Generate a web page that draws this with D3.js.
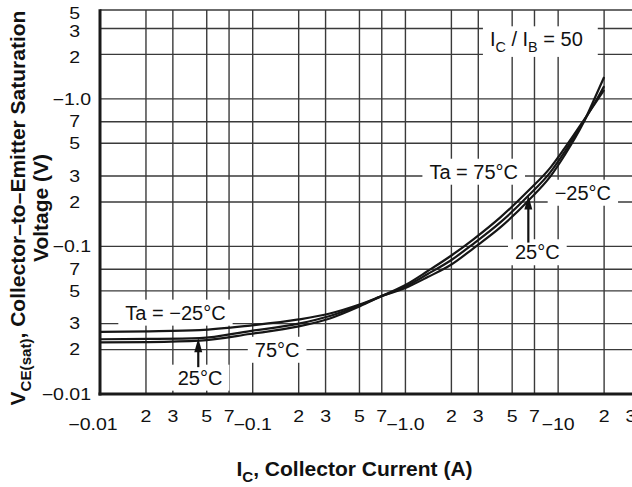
<!DOCTYPE html>
<html>
<head>
<meta charset="utf-8">
<script src="https://cdn.jsdelivr.net/npm/d3@7"></script>
<style>
  body { margin: 0; background: #fff; }
  svg { display: block; }
  text { font-family: "Liberation Sans", Arial, Helvetica, sans-serif; fill: #111; }
</style>
</head>
<body>
<svg id="chart" width="632" height="487"></svg>
<script>
// Collector current (A) sample points along the curves
const currents = [0.01, 0.021, 0.045, 0.096, 0.2, 0.32, 0.5, 0.7, 1.0, 1.4, 2.0, 2.8, 4.2, 6.4, 8.9, 11, 14.6, 17.5, 20];
// VCE(sat) magnitude (V) at each current, IC/IB = 50
const vceMinus25 = [0.0264, 0.0266, 0.0271, 0.0291, 0.0320, 0.0351, 0.0404, 0.0461, 0.0523, 0.062, 0.0754, 0.0975, 0.135, 0.205, 0.298, 0.413, 0.685, 1.03, 1.405];
const vce25      = [0.0235, 0.0236, 0.0239, 0.0267, 0.0300, 0.0338, 0.0398, 0.0461, 0.0535, 0.065, 0.0809, 0.1046, 0.146, 0.221, 0.319, 0.436, 0.696, 0.951, 1.22];
const vce75      = [0.0224, 0.0225, 0.0230, 0.0255, 0.0287, 0.0325, 0.0392, 0.0461, 0.0548, 0.0681, 0.0868, 0.1122, 0.158, 0.239, 0.342, 0.461, 0.707, 0.937, 1.15];

// Axis ticks and their printed labels
const xTicks = [0.01, 0.02, 0.03, 0.05, 0.07, 0.1, 0.2, 0.3, 0.5, 0.7, 1, 2, 3, 5, 7, 10, 20, 30];
const xTickLabels = ["−0.01", "2", "3", "5", "7", "−0.1", "2", "3", "5", "7", "−1.0", "2", "3", "5", "7", "−10", "2", "3"];
const yTicks = [0.01, 0.02, 0.03, 0.05, 0.07, 0.1, 0.2, 0.3, 0.5, 0.7, 1, 2, 3, 4];
const yTickLabels = ["−0.01", "2", "3", "5", "7", "−0.1", "2", "3", "5", "7", "−1.0", "2", "3", "5"];

const series = [
  { name: "-25", values: vceMinus25 },
  { name: "25", values: vce25 },
  { name: "75", values: vce75 }
];

// In-plot annotations: text parts ([text, isSubscript]) anchored at (current, voltage)
const annotations = [
  { parts: [["Ta = −25°C"]], i: 0.0312, v: 0.0357 },
  { parts: [["75°C"]], i: 0.1445, v: 0.0200 },
  { parts: [["25°C"]], i: 0.0452, v: 0.01294 },
  { parts: [["Ta = 75°C"]], i: 2.80, v: 0.3218 },
  { parts: [["−25°C"]], i: 14.52, v: 0.2318 },
  { parts: [["25°C"]], i: 7.31, v: 0.0916 },
  { parts: [["I"], ["C", 1], [" / I"], ["B", 1], [" = 50"]], i: 7.2, v: 2.54, padR: 15 }
];
// Arrows pointing at the 25°C curve
const arrows = [
  { i: 0.044, v: 0.0239, len: 29 },
  { i: 6.38, v: 0.221, len: 47 }
];

const svg = d3.select("#chart");
const x = d3.scaleLog().domain([0.01, 30]).range([100, 631]);
const y = d3.scaleLog().domain([0.01, 4]).range([394, 10]);

// Grid
const grid = svg.append("g").attr("stroke", "#3a3a3a").attr("stroke-width", 1.4);
grid.selectAll("line.v").data(xTicks.filter(d => d > 0.01 && d < 30)).join("line")
  .attr("x1", d => x(d)).attr("x2", d => x(d)).attr("y1", y(4)).attr("y2", y(0.01));
grid.selectAll("line.h").data(yTicks.filter(d => d > 0.01)).join("line")
  .attr("x1", x(0.01)).attr("x2", 632).attr("y1", d => y(d)).attr("y2", d => y(d));

const boxLayer = svg.append("g");

// Axis frame (left and bottom)
svg.append("line").attr("x1", x(0.01)).attr("x2", x(0.01)).attr("y1", y(4) - 0.7).attr("y2", y(0.01) + 1.5)
  .attr("stroke", "#1a1a1a").attr("stroke-width", 3);
svg.append("line").attr("x1", x(0.01) - 1.5).attr("x2", 632).attr("y1", y(0.01)).attr("y2", y(0.01))
  .attr("stroke", "#1a1a1a").attr("stroke-width", 3);

// Curves
const line = d3.line().x(d => x(d[0])).y(d => y(d[1])).curve(d3.curveMonotoneX);
svg.append("g").selectAll("path").data(series).join("path")
  .attr("d", s => line(currents.map((c, k) => [c, s.values[k]])))
  .attr("fill", "none").attr("stroke", "#161616").attr("stroke-width", 2.2);

// Arrows
arrows.forEach(a => {
  const ax = x(a.i), ay = y(a.v);
  svg.append("line").attr("x1", ax).attr("x2", ax).attr("y1", ay + 10).attr("y2", ay + a.len)
    .attr("stroke", "#111").attr("stroke-width", 2.2);
  svg.append("path").attr("d", `M${ax},${ay} L${ax - 4},${ay + 14} L${ax + 4},${ay + 14} Z`).attr("fill", "#111");
});

function writeParts(t, parts, size) {
  parts.forEach((p, k) => {
    const prevSub = k > 0 && parts[k - 1][1];
    const ts = t.append("tspan").text(p[0]);
    if (p[1]) ts.attr("font-size", size * 0.72).attr("dy", size * 0.28);
    else if (prevSub) ts.attr("dy", -size * 0.28);
  });
}

// Annotations with white backing boxes
const annSize = 20;
annotations.forEach(a => {
  const cx = x(a.i), cy = y(a.v);
  const t = svg.append("text").attr("x", cx).attr("y", cy + annSize * 0.36)
    .attr("text-anchor", "middle").attr("font-size", annSize);
  writeParts(t, a.parts, annSize);
  const b = t.node().getBBox();
  const padL = 7, padR = a.padR || 7;
  boxLayer.append("rect").attr("x", b.x - padL).attr("y", b.y - 2)
    .attr("width", b.width + padL + padR).attr("height", b.height + 4).attr("fill", "#fff");
});

// Tick labels (slightly wide lettering)
const tickSize = 16, stretch = 1.22;
xTicks.forEach((d, k) => {
  const lab = xTickLabels[k];
  const decade = lab.startsWith("−");
  const dx = k === 0 ? -7 : 0;
  svg.append("text")
    .attr("transform", `translate(${x(d) + dx},${decade ? 430 : 422}) scale(${stretch},1)`)
    .attr("text-anchor", "middle").attr("font-size", tickSize).text(lab);
});
yTicks.forEach((d, k) => {
  const lab = yTickLabels[k];
  const decade = lab.startsWith("−");
  const yy = y(d) + tickSize * 0.36 + (d >= 2 ? 3 : 0);
  svg.append("text")
    .attr("transform", `translate(${decade ? 91 : 80},${yy}) scale(${stretch},1)`)
    .attr("text-anchor", "end").attr("font-size", tickSize).text(lab);
});

// Axis titles
const titleSize = 21;
const xt = svg.append("text").attr("x", 354.5).attr("y", 476)
  .attr("text-anchor", "middle").attr("font-size", titleSize).attr("font-weight", "bold");
writeParts(xt, [["I"], ["C", 1], [", Collector Current (A)"]], titleSize);

const yt1 = svg.append("text").attr("transform", "translate(25,208) rotate(-90)")
  .attr("text-anchor", "middle").attr("font-size", titleSize).attr("font-weight", "bold");
writeParts(yt1, [["V"], ["CE(sat)", 1], [", Collector–to–Emitter Saturation"]], titleSize);
svg.append("text").attr("transform", "translate(48,208) rotate(-90)")
  .attr("text-anchor", "middle").attr("font-size", titleSize).attr("font-weight", "bold")
  .text("Voltage (V)");
</script>
</body>
</html>
